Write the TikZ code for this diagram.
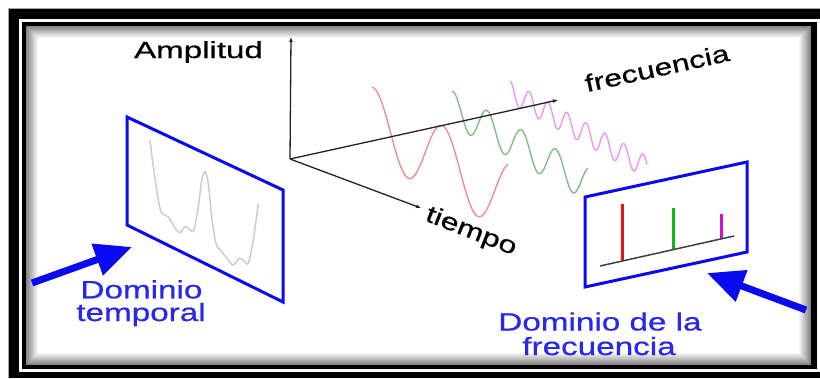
\documentclass[tikz,border=0pt]{standalone}
\usepackage{fontspec}
\setmainfont{Liberation Sans}
\newfontfamily\wsf[FakeStretch=1.33,FakeBold=0.6]{Liberation Sans}
\newfontfamily\wsfa[FakeStretch=1.42,FakeBold=0.6]{Liberation Sans}
\usetikzlibrary{arrows.meta}
\definecolor{txtblue}{RGB}{40,40,235}
\definecolor{panelblue}{RGB}{10,10,240}
\definecolor{wavered}{RGB}{245,140,140}
\definecolor{wavegreen}{RGB}{130,190,130}
\definecolor{wavemag}{RGB}{240,150,240}
\definecolor{barred}{RGB}{235,20,20}
\definecolor{bargreen}{RGB}{20,185,20}
\definecolor{barmag}{RGB}{200,20,210}
\definecolor{axisgray}{RGB}{35,35,35}
\definecolor{siggray}{RGB}{205,205,205}
\begin{document}
\begin{tikzpicture}[x=1pt,y=-1pt,
  wave/.style={line width=1.4pt},
  axisline/.style={draw=axisgray, line width=1.3pt, -{Latex[length=5pt,width=4pt]}},
  panel/.style={draw=panelblue, line width=3pt},
  bar/.style={line width=3pt},
  bigarrow/.style={draw=panelblue, line width=7pt, -{Triangle[length=37pt,width=32pt]}},
  bluetxt/.style={text=txtblue, font=\wsf\fontsize{25}{25}\selectfont, inner sep=0pt, anchor=base},
  axistxt/.style={text=black, font=\wsf\fontsize{24}{24}\selectfont, inner sep=0pt}
]
\useasboundingbox (0,0) rectangle (820,378);
\fill[white] (0,0) rectangle (820,378);
% frame
\fill[black] (8,8) rectangle (820,378);
\draw[gray!70, line width=0.8pt] (8,378) -- (8,8) -- (820,8);
\fill[white] (19,19) rectangle (820,372);
\fill[black] (22,22) rectangle (817,369);
\fill[white] (26,26) rectangle (811,365);
\foreach \i [evaluate=\i as \g using 48-4*\i] in {0,...,11}
  \draw[draw=black!\g, line width=1.1pt] (26.5+\i,26.5+\i) rectangle (810.5-\i,364.5-\i);

% waves
\draw[wave, wavered] plot[domain=372:508, samples=160, smooth] (\x, {142.4+0.55*(\x-408)+35.6*cos(360/69.5*(\x-408))});
\draw[wave, wavegreen] plot[domain=452:588, samples=200, smooth] (\x, {118+0.56*(\x-470)+17*cos(360/34.3*(\x-470))});
\draw[wave, wavemag] plot[domain=510:647, samples=300, smooth] (\x, {92+0.55*(\x-510)-11*cos(360/19*(\x-510))});

% axes
\coordinate (O) at (290,159);
\coordinate (Atop) at (291,37);
\coordinate (Tend) at (421,208);
\coordinate (Fend) at (558,100);
\draw[axisline] (O) -- (Atop);
\draw[axisline] (O) -- (Tend);
\draw[axisline] (O) -- (Fend);

\node[font=\wsfa\fontsize{23.3}{24}\selectfont, inner sep=0pt, anchor=base] (amp) at (198.5,58) {Amplitud};
\node[axistxt, rotate=12.4] (frec) at (657,68) {frecuencia};
\node[axistxt, rotate=-21.4] (tiem) at (471,232) {tiempo};

% left panel
\coordinate (L1) at (127,117);
\coordinate (L2) at (283,190);
\coordinate (L3) at (283,302);
\coordinate (L4) at (127,225);
\draw[draw=siggray, line width=1.5pt] plot[smooth, tension=0.5] coordinates {
 (150,140) (153.3,166.7) (158.3,200) (161.7,213.3) (168.3,216.7) (175,228.3)
 (180,232.7) (185,226.7) (190,230) (194,230) (198.3,206.7) (201.7,180)
 (205,171.7) (208.3,183.3) (211.7,216.7) (216,243.3) (221.7,251.7) (228.3,260)
 (233.3,265) (239.3,258.3) (244,260.7) (248.3,263.3) (253.3,240) (258.3,203.3)};
\draw[panel] (L1) -- (L2) -- (L3) -- (L4) -- cycle;

% right panel
\coordinate (R1) at (585,197);
\coordinate (R2) at (747,162);
\coordinate (R3) at (747,252);
\coordinate (R4) at (585,287);
\coordinate (B1) at (600,266);
\coordinate (B2) at (734,236);
\coordinate (rb) at (622,261.1);
\coordinate (rt) at (622,204);
\coordinate (gb) at (673,249.7);
\coordinate (gt) at (673,208);
\coordinate (mb) at (721,239);
\coordinate (mt) at (721,214);
\draw[bar, barred] (rb) -- (rt);
\draw[bar, bargreen] (gb) -- (gt);
\draw[bar, barmag] (mb) -- (mt);
\draw[draw=black!75, line width=1.5pt] (B1) -- (B2);
\draw[panel] (R1) -- (R2) -- (R3) -- (R4) -- cycle;

% blue arrows
\coordinate (LAtail) at (32,283);
\coordinate (LAtip) at (132,247);
\coordinate (RAtail) at (806,310);
\coordinate (RAtip) at (707,273);
\draw[bigarrow] (LAtail) -- (LAtip);
\draw[bigarrow] (RAtail) -- (RAtip);

% blue labels
\node[bluetxt] (dt1) at (141.5,298.3) {Dominio};
\node[bluetxt] (dt2) at (141,321) {temporal};
\node[bluetxt] (df1) at (600,330.5) {Dominio de la};
\node[bluetxt] (df2) at (599,355) {frecuencia};
\end{tikzpicture}
\end{document}
